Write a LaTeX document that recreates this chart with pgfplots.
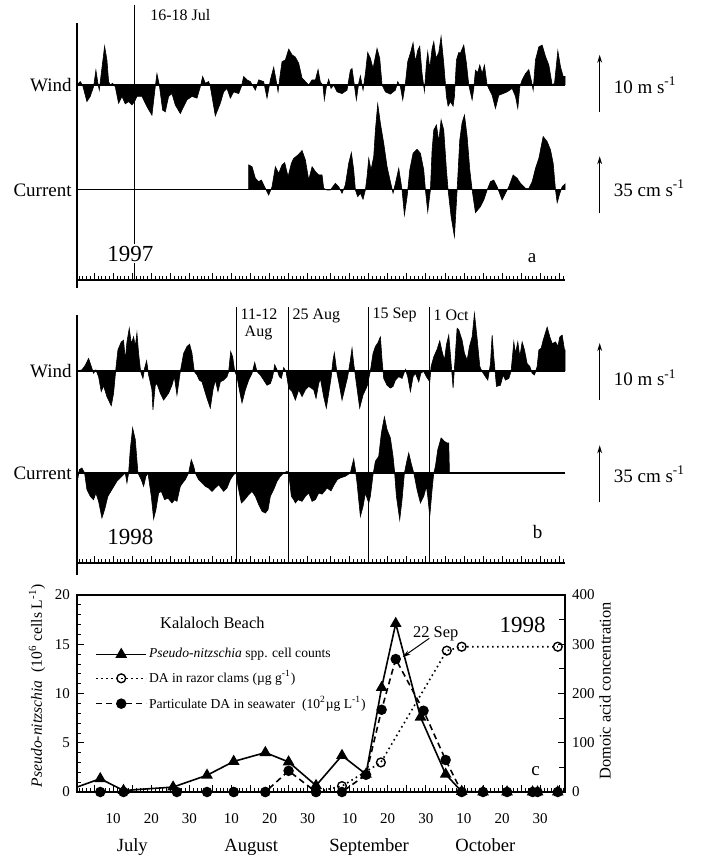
\documentclass[border=0pt]{standalone}
\usepackage{fontspec}
\setmainfont{Liberation Serif}
\usepackage{pgfplots}
\pgfplotsset{compat=1.18}
\usetikzlibrary{arrows.meta}

\newcommand{\fs}[1]{\fontsize{#1}{#1}\selectfont}

% days counted from 1 July (=0)
\pgfplotsset{
  stick/.style={scale only axis, width=244pt, xmin=-0.5, xmax=127.5, clip=false},
  frame/.style={
    axis x line=bottom, axis y line=left,
    axis line style={-, line width=0.6pt},
    ytick=\empty,
    xtick={4,9,14,19,24,29,35,40,45,50,55,60,66,71,76,81,86,91,96,101,106,111,116,121,126},
    xticklabels=\empty, minor xtick={0,...,127},
    tick align=inside, major tick length=3.5pt, minor tick length=1.8pt,
    tick style={black, line width=0.4pt},
  },
  area/.style={fill=black, draw=black, line width=0.3pt},
}
\tikzset{scalebar/.style={-{Stealth[length=4pt,width=2.4pt]}, line width=0.5pt}}

\begin{document}
\begin{tikzpicture}
\useasboundingbox (0pt,0pt) rectangle (351pt,429pt);

%%%%%%%%%%%%%%%% panel a, 1997
\begin{axis}[stick, frame, at={(38.5pt,289pt)}, anchor=south west, height=128.5pt,
  ymin=-34.21, ymax=10.88]
\addplot[area] coordinates {
(-0.5,0)(0.35,0.6)(0.96,0)(2.1,-2.9)(2.97,-2.0)(3.85,-0.3)(4.46,2.6)(4.99,0.3)(5.34,-0.9)(5.86,2.0)
(6.74,6.8)(7.35,4.4)(7.79,0.6)(8.22,0)(8.84,0.3)(9.54,-0.3)(10.41,-3.2)(11.29,-2.0)(12.16,-3.3)(13.04,-2.9)
(13.91,-3.5)(14.61,-2.9)(15.22,-2.0)(16.54,-2.0)(17.85,-3.8)(19.16,-5.3)(20.03,-0.3)(20.47,2.0)(21.09,0)(21.96,-4.4)
(22.66,-4.7)(23.53,-2.0)(24.41,-1.5)(25.28,-3.5)(26.6,-5.0)(27.47,-3.8)(28.35,-2.6)(29.66,-2.0)(30.97,-2.3)(31.85,-0.3)
(32.46,1.5)(33.16,0.3)(34.03,0.6)(34.47,-0.3)(35.78,-5.4)(37.1,-3.2)(37.97,-1.2)(38.85,-0.6)(39.72,-2.3)(40.6,-1.2)
(41.91,-1.5)(42.61,-0.3)(43.22,1.5)(44.09,0.9)(44.97,0.6)(46.28,-0.9)(47.16,0.9)(48.47,0.6)(49.34,-2.3)(50.22,0.9)
(51.09,3.1)(51.71,0.9)(52.23,-1.2)(52.84,2.0)(53.28,4.1)(54.16,4.4)(55.03,6.3)(55.9,5.3)(56.78,4.9)(57.66,3.8)
(58.53,1.2)(59.41,0.6)(60.28,0)(61.16,0.9)(62.03,0.9)(62.73,2.7)(63.34,0.5)(64.0,0)(64.38,-2.6)(64.9,-0.3)
(65.52,1.0)(66.13,-0.6)(66.83,0)(67.7,-1.2)(69.02,-1.5)(70.33,-0.9)(71.2,2.6)(71.64,2.9)(72.25,0)(72.78,-2.6)
(73.39,0.3)(73.83,1.6)(74.53,-0.9)(75.14,2.0)(75.75,5.7)(76.45,4.7)(77.15,2.9)(78.2,6.4)(78.9,4.7)(79.52,0)
(80.39,-1.2)(81.7,-1.6)(83.02,-0.9)(83.63,0.6)(84.33,-0.3)(84.94,-2.6)(85.64,0.3)(86.25,4.1)(86.95,5.6)(87.65,7.4)
(88.26,4.1)(88.88,6.1)(89.4,6.8)(90.01,2.0)(90.63,-1.1)(91.15,3.8)(91.5,5.8)(92.03,2.9)(92.64,6.4)(93.08,7.6)
(93.69,4.7)(94.39,5.7)(95.0,8.5)(95.7,3.8)(96.4,-2.0)(96.84,-3.7)(97.45,-2.9)(98.15,-3.7)(98.5,-2.0)(99.03,4.4)
(99.64,5.7)(100.08,5.6)(100.95,7.0)(101.65,3.8)(102.26,0)(103.14,-2.6)(103.57,-0.6)(104.01,2.6)(104.62,2.2)(105.15,3.5)
(105.76,2.0)(106.37,3.5)(107.07,0)(108.39,-1.8)(109.26,-4.1)(110.14,-1.8)(111.28,-1.5)(112.32,-1.2)(113.64,-0.6)(114.51,-2.0)
(115.12,-4.1)(115.65,-0.3)(116.26,0.9)(117.14,2.0)(118.01,2.7)(118.62,0.9)(119.15,-0.9)(119.76,4.4)(120.64,6.7)(121.51,7.0)
(122.39,5.0)(123.26,3.5)(124.14,0)(124.75,0.3)(125.62,6.0)(126.32,3.2)(127.02,1.5)(127.5,1.5)(127.5,0)
};
\draw[line width=1pt] (axis cs:-0.5,0) -- (axis cs:127.5,0);
\draw[line width=0.6pt] (axis cs:-0.5,-34.21) -- (axis cs:-0.5,-35.6);
\draw[line width=0.6pt] (axis cs:14.5,14.0) -- (axis cs:14.5,-34.21);
\node[fill=white, inner sep=1pt, font=\fs{11.5}] at (axis cs:13.5,-29.6) {1997};
\node[anchor=west, font=\fs{8}] at (axis cs:16.9,12.3) {16-18 Jul};
\node[anchor=base, font=\fs{9.5}] at (axis cs:118.9,-31.2) {a};
\node[anchor=east, font=\fs{9.5}, inner sep=1pt] at (axis cs:-1.3,0) {Wind};
\draw[scalebar] (axis cs:136.6,-4.7) -- (axis cs:136.6,5.3);
\node[anchor=west, font=\fs{9.5}, inner sep=0pt] at (axis cs:140.2,0) {10 m s\textsuperscript{-1}};
\end{axis}

\begin{axis}[stick, hide axis, at={(38.5pt,289pt)}, anchor=south west, height=128.5pt,
  ymin=-55.25, ymax=102.5]
\addplot[area] coordinates {
(44.53,0)(44.54,15.4)(45.41,14.3)(46.28,7.2)(47.16,5.1)(47.86,6.1)(48.91,1.0)(49.78,-3.1)(50.66,2.0)(51.53,14.3)
(52.41,10.2)(53.28,15.4)(53.98,16.8)(54.86,8.2)(55.73,16.4)(56.34,19.4)(57.48,21.5)(58.53,24.2)(59.41,18.4)(60.28,6.1)
(61.16,14.3)(62.03,11.3)(62.91,9.2)(63.78,9.2)(64.2,1.0)(65.08,0)(65.95,0)(67.27,4.1)(68.14,2.0)(69.02,-2.0)
(69.89,3.1)(70.77,16.4)(71.47,22.9)(72.08,12.3)(72.52,0)(73.13,-4.1)(73.83,-2.0)(74.53,-5.7)(75.14,0)(75.58,8.2)
(76.02,19.4)(76.63,12.3)(77.33,20.5)(77.77,36.8)(78.38,52.8)(79.08,40.9)(79.95,28.7)(80.83,14.3)(81.7,5.1)(82.4,-2.0)
(83.02,4.1)(83.89,13.3)(84.76,0)(85.38,-15.4)(86.08,-4.1)(86.78,12.3)(87.65,22.5)(88.7,25.0)(89.58,22.5)(90.45,12.3)
(90.89,0)(91.5,-13.3)(92.2,0)(92.64,24.6)(93.08,36.8)(93.78,39.9)(94.39,29.7)(95.0,43.0)(95.7,36.8)(96.4,12.3)
(96.84,0)(97.63,-16.4)(98.5,-28.7)(99.2,0)(99.9,30.7)(100.51,41.3)(101.13,46.0)(101.83,32.8)(102.53,12.3)(103.14,0)
(104.01,-13.9)(105.33,-10.2)(106.2,-6.1)(107.07,0)(107.95,5.1)(108.82,6.1)(109.7,2.0)(111.01,-6.1)(111.89,-2.0)(112.76,2.0)
(113.9,9.2)(114.95,7.2)(115.82,4.1)(117.14,1.0)(118.01,1.0)(118.89,5.1)(119.76,13.3)(120.64,19.4)(121.77,32.8)(122.82,29.7)
(123.7,24.6)(124.4,16.4)(125.01,0)(125.45,-7.8)(126.15,-2.0)(126.76,2.0)(127.5,3.7)(127.5,0)
};
\draw[line width=0.5pt] (axis cs:-0.5,0) -- (axis cs:127.5,0);
\node[anchor=east, font=\fs{9.5}, inner sep=1pt] at (axis cs:-1.3,0) {Current};
\draw[scalebar] (axis cs:136.6,-14.3) -- (axis cs:136.6,20.7);
\node[anchor=west, font=\fs{9.5}, inner sep=0pt] at (axis cs:140.2,1) {35 cm s\textsuperscript{-1}};
\end{axis}

%%%%%%%%%%%%%%%% panel b, 1998
\begin{axis}[stick, frame, at={(38.5pt,147.5pt)}, anchor=south west, height=124pt,
  ymin=-33.68, ymax=9.825]
\addplot[area] coordinates {
(-0.5,0)(0.79,0.2)(1.66,1.0)(2.54,2.2)(3.24,0.8)(3.85,-0.4)(4.46,0.2)(5.16,-1.0)(5.86,-3.6)(6.47,-2.6)
(7.35,-4.5)(8.49,-6.1)(9.1,-3.9)(9.71,0.5)(10.24,3.7)(11.11,5.1)(11.72,5.4)(12.16,1.9)(12.6,5.1)(13.21,7.5)
(13.74,4.8)(14.35,6.0)(14.79,4.3)(15.22,6.7)(15.66,3.1)(16.19,-0.1)(16.8,-1.3)(17.24,0.5)(17.76,1.8)(18.29,-0.7)
(19.16,-3.3)(19.42,-6.8)(20.03,-2.5)(20.47,-2.2)(21.35,-3.9)(22.22,-5.1)(23.53,-3.9)(24.41,-2.5)(25.02,-1.0)(25.72,-4.2)
(26.6,-0.1)(27.47,3.1)(28.35,4.3)(29.05,4.7)(29.66,3.1)(30.27,-0.1)(30.97,-0.7)(31.58,-1.6)(32.28,-1.9)(33.6,-4.8)
(34.47,-6.5)(35.17,-3.3)(35.78,-1.6)(36.48,-3.6)(37.1,-1.9)(37.97,-1.6)(38.85,-1.0)(39.28,-0.1)(39.81,3.4)(40.33,2.5)
(40.86,0)(41.47,-1.0)(42.08,-3.3)(42.78,-5.6)(43.66,-3.3)(44.53,-1.6)(45.41,-0.4)(46.11,1.5)(46.72,-0.1)(47.59,-0.7)
(48.47,-1.6)(49.34,-2.5)(50.22,-2.2)(50.83,-1.0)(51.36,1.1)(51.97,0.2)(52.58,-1.0)(53.11,-1.3)(53.72,0.6)(54.33,-0.1)
(55.03,-3.0)(55.9,-3.6)(56.78,-5.1)(57.66,-3.3)(58.53,-4.5)(59.41,-3.3)(60.28,-2.7)(61.59,-3.3)(62.2,-4.8)(62.91,-2.2)
(63.33,-1.3)(64.2,-4.5)(64.9,-6.5)(65.52,-3.9)(66.13,-1.3)(66.65,1.9)(67.0,3.2)(67.7,-0.4)(68.32,-2.5)(69.02,-5.1)
(69.89,-2.7)(70.5,-1.0)(71.2,1.9)(71.64,4.0)(72.08,1.3)(72.78,-2.2)(73.65,-6.5)(74.53,-4.2)(75.58,-2.7)(76.45,0)
(77.15,3.1)(77.77,4.3)(78.38,4.9)(79.08,6.0)(79.52,1.9)(79.95,-1.3)(80.83,-2.5)(81.7,-3.0)(82.4,-2.7)(83.02,-1.6)
(83.89,-1.0)(84.76,-1.3)(85.64,0.3)(86.25,-1.0)(86.95,-3.6)(87.65,-1.0)(88.26,-0.4)(89.14,-1.9)(89.75,-0.3)(90.45,-0.1)
(91.15,-1.0)(92.03,-1.9)(92.38,0.8)(93.08,2.5)(93.95,3.8)(94.65,5.3)(95.26,3.4)(95.88,1.9)(96.4,4.6)(97.01,6.3)
(97.63,1.4)(98.15,-3.0)(98.5,0.5)(99.2,7.5)(99.64,7.2)(100.51,5.4)(101.13,3.1)(101.83,1.9)(102.44,4.3)(103.14,6.0)
(103.75,10.1)(104.45,5.7)(105.15,0.8)(105.76,-0.1)(106.64,-1.0)(107.25,-1.6)(107.95,1.3)(108.39,6.3)(108.82,2.5)(109.52,-2.7)
(110.57,-2.5)(111.28,-0.7)(111.89,-1.6)(112.76,-1.3)(113.37,0)(114.07,5.1)(114.51,3.1)(115.12,5.1)(115.65,2.5)(116.26,5.1)
(116.87,3.7)(117.57,1.3)(118.27,0.8)(118.89,-0.4)(119.5,-0.7)(120.2,0.8)(120.64,3.7)(121.25,4.0)(121.77,5.4)(122.82,7.7)
(123.52,6.0)(124.14,4.8)(125.01,5.1)(125.62,4.3)(126.15,6.0)(126.76,6.3)(127.37,3.7)(127.5,3.7)(127.5,0)
};
\draw[line width=1pt] (axis cs:-0.5,0) -- (axis cs:127.5,0);
\draw[line width=0.6pt] (axis cs:-0.5,-33.68) -- (axis cs:-0.5,-35.8);
\draw[line width=0.6pt] (axis cs:41.3,11.2) -- (axis cs:41.3,-33.68);
\draw[line width=0.6pt] (axis cs:54.9,11.2) -- (axis cs:54.9,-33.68);
\draw[line width=0.6pt] (axis cs:75.9,11.2) -- (axis cs:75.9,-33.68);
\draw[line width=0.6pt] (axis cs:91.9,11.2) -- (axis cs:91.9,-33.68);
\node[anchor=west, font=\fs{8}, inner sep=1pt] at (axis cs:41.8,9.9) {11-12};
\node[font=\fs{8}, inner sep=1pt] at (axis cs:47.1,6.6) {Aug};
\node[anchor=west, font=\fs{8}, inner sep=1pt] at (axis cs:55.4,9.7) {25 Aug};
\node[anchor=west, font=\fs{8}, inner sep=1pt] at (axis cs:76.4,9.8) {15 Sep};
\node[anchor=west, font=\fs{8}, inner sep=1pt] at (axis cs:92.4,9.8) {1 Oct};
\node[font=\fs{11.5}] at (axis cs:13.5,-29.2) {1998};
\node[anchor=base, font=\fs{9.5}] at (axis cs:120.3,-29.3) {b};
\node[anchor=east, font=\fs{9.5}, inner sep=1pt] at (axis cs:-1.3,0) {Wind};
\draw[scalebar] (axis cs:136.6,-5.1) -- (axis cs:136.6,4.9);
\node[anchor=west, font=\fs{9.5}, inner sep=0pt] at (axis cs:140.2,-1.2) {10 m s\textsuperscript{-1}};
\end{axis}

\begin{axis}[stick, hide axis, at={(38.5pt,147.5pt)}, anchor=south west, height=124pt,
  ymin=-55.25, ymax=97.0]
\addplot[area] coordinates {
(-0.5,0)(-0.45,-6.1)(0.09,2.0)(0.79,3.1)(1.49,0)(2.1,-10.2)(2.97,-14.3)(3.85,-16.4)(4.46,-12.3)(5.16,-17.4)
(6.04,-27.6)(6.74,-22.5)(7.61,-14.3)(8.66,-10.2)(9.97,-5.1)(11.29,-2.0)(12.16,0)(12.6,-6.1)(13.04,0)(13.47,14.3)
(14.09,27.6)(14.79,20.5)(15.49,0)(16.36,-4.1)(16.97,-8.2)(17.59,-2.0)(18.11,0)(18.99,-14.3)(19.6,-28.2)(20.21,-22.5)
(20.91,-12.3)(21.61,-11.3)(22.48,-16.4)(23.36,-15.4)(24.41,-18.4)(25.11,-16.4)(25.72,-17.4)(26.6,-8.2)(27.21,-6.1)(27.91,-4.1)
(28.78,0)(29.48,8.2)(30.1,4.1)(30.53,0)(31.41,-4.1)(32.28,-6.1)(33.16,-8.2)(34.03,-9.2)(34.91,-11.3)(35.78,-9.2)
(36.66,-7.2)(37.97,-11.3)(38.85,-9.2)(39.72,-4.1)(40.6,-1.0)(41.21,0)(41.73,-8.2)(42.61,-18.4)(43.48,-16.4)(44.53,-13.3)
(45.41,-11.3)(46.28,-14.3)(47.16,-19.4)(48.03,-23.5)(48.91,-24.6)(49.61,-22.5)(50.22,-14.3)(51.09,-10.2)(51.97,-5.1)(52.84,-2.0)
(53.72,0)(54.59,1.0)(55.03,0)(55.73,-14.3)(56.34,-16.4)(56.78,-18.4)(57.48,-16.4)(58.53,-17.4)(59.41,-14.3)(60.28,-12.3)
(61.16,-17.4)(62.03,-16.4)(62.91,-12.3)(63.78,-13.0)(64.5,-11.0)(65.1,-9.2)(66.13,-11.0)(67.0,-7.0)(67.8,-4.0)(68.6,-3.0)
(69.9,-2.0)(71.2,0)(71.64,4.5)(72.08,8.6)(72.52,2.0)(72.95,-6.1)(73.83,-26.6)(74.53,-20.5)(75.14,-12.3)(76.02,-18.4)
(76.45,-14.3)(77.15,-1.0)(77.77,7.2)(78.64,10.2)(79.34,24.6)(80.13,34.4)(80.83,26.6)(81.7,21.5)(82.4,10.2)(82.75,2.0)
(83.28,-14.3)(84.15,-28.7)(84.76,-16.4)(85.38,0)(85.9,6.1)(86.51,12.3)(87.13,6.1)(87.83,0)(88.7,-10.2)(89.58,-18.4)
(90.45,-14.3)(91.15,-8.2)(91.5,-14.3)(92.03,-26.6)(92.64,-10.2)(93.08,0)(93.51,4.1)(94.13,14.3)(95.0,21.5)(95.88,19.4)
(96.58,18.4)(97.01,18.4)(97.19,0)
};
\draw[line width=0.6pt] (axis cs:-0.5,0) -- (axis cs:127.5,0);
\node[anchor=east, font=\fs{9.5}, inner sep=1pt] at (axis cs:-1.3,0) {Current};
\draw[scalebar] (axis cs:136.6,-18) -- (axis cs:136.6,17);
\node[anchor=west, font=\fs{9.5}, inner sep=0pt] at (axis cs:140.2,-0.6) {35 cm s\textsuperscript{-1}};
\end{axis}

%%%%%%%%%%%%%%%% panel c
\begin{axis}[scale only axis, width=244pt, height=98.5pt, at={(38.5pt,33pt)}, anchor=south west,
  xmin=-0.5, xmax=127.5, ymin=0, ymax=20, clip=false,
  axis line style={line width=0.6pt},
  xtick={4,9,14,19,24,29,35,40,45,50,55,60,66,71,76,81,86,91,96,101,106,111,116,121,126},
  xticklabels={,10,,20,,30,,10,,20,,30,,10,,20,,30,,10,,20,,30,},
  minor xtick={0,...,127},
  ytick={0,5,...,20}, minor y tick num=4,
  xtick pos=left, ytick pos=left,
  tick align=inside, major tick length=3.5pt, minor tick length=1.8pt,
  tick style={black, line width=0.4pt},
  tick label style={font=\fs{7.5}},
  xticklabel style={yshift=-7pt},
  /pgf/number format/assume math mode=true,
  ylabel={\textit{Pseudo-nitzschia}~~(10\textsuperscript{6} cells L\textsuperscript{-1})},
  ylabel style={font=\fs{7.8}, at={(axis description cs:-0.082,0.54)}, anchor=center, rotate=0},
]
\addplot[black, line width=0.8pt, mark=triangle*, mark size=2.6pt, mark indices={2,...,21},
  mark options={solid}] coordinates {
(-0.5,0.5)(5.6,1.35)(11.7,0.15)(24.7,0.5)(33.6,1.7)(40.6,3.1)(48.9,4.0)(55.0,3.05)(62.2,0.65)(69.0,3.7)
(75.3,1.8)(79.4,10.6)(83.1,17.1)(89.6,7.6)(96.2,1.8)(100.4,0.05)(106,0)(112.3,0)(119,0)(120.3,0)(125.6,0)(127.5,0)
};
\node[font=\fs{8.2}] at (axis cs:35,17.2) {Kalaloch Beach};
\node[font=\fs{8.2}, inner sep=0.5pt] at (axis cs:93.6,16.1) {22 Sep};
\draw[-{Stealth[length=4pt,width=2.4pt]}, line width=0.5pt] (axis cs:91.9,15.6) -- (axis cs:84.9,13.7);
\node[font=\fs{11.5}] at (axis cs:116.4,17.0) {1998};
\node[anchor=base, font=\fs{9.5}] at (axis cs:119.8,1.7) {c};
\node[anchor=base, font=\fs{9.3}] at ([yshift=-30pt]axis cs:14.0,0) {July};
\node[anchor=base, font=\fs{9.3}] at ([yshift=-30pt]axis cs:45.2,0) {August};
\node[anchor=base, font=\fs{9.3}] at ([yshift=-30pt]axis cs:76.1,0) {September};
\node[anchor=base, font=\fs{9.3}] at ([yshift=-30pt]axis cs:106.6,0) {October};
\end{axis}

\begin{axis}[scale only axis, width=244pt, height=98.5pt, at={(38.5pt,33pt)}, anchor=south west,
  xmin=-0.5, xmax=127.5, ymin=0, ymax=400, clip=false,
  axis y line*=right, axis x line=none,
  axis line style={-, line width=0.6pt},
  ytick={0,100,...,400}, minor y tick num=1,
  tick align=inside, major tick length=3.5pt, minor tick length=3pt,
  tick style={black, line width=0.4pt},
  tick label style={font=\fs{7.5}},
  /pgf/number format/assume math mode=true,
  ylabel={Domoic acid concentration},
  ylabel style={font=\fs{8.2}, at={(axis description cs:1.082,0.513)}, anchor=center, rotate=0},
  legend style={at={(0.037,0.742)}, anchor=north west, draw=none, fill=none,
    font=\fs{6.8}, row sep=3pt, inner sep=0pt, nodes={inner sep=1pt}},
  legend cell align=left,
  legend image code/.code={\draw[mark repeat=2,mark phase=2,#1] plot coordinates {(0pt,0pt)(12.5pt,0pt)(25pt,0pt)};},
]
\addlegendimage{black, line width=0.8pt, mark=triangle*, mark size=2.6pt, mark options={solid}}
\addlegendentry{\textit{Pseudo-nitzschia} spp. cell counts}
\addplot[black, line width=0.8pt, dash pattern=on 0.8pt off 1.7pt, mark=o, mark size=2.2pt,
  mark options={solid, fill=white, line width=0.7pt}] coordinates {
(40.6,0)(48.9,0)(62.2,0)(69.0,12)(79.2,60)(96.5,287)(100.4,295)(125.6,295)
};
\addlegendentry{DA in razor clams (µg g\textsuperscript{-1})}
\addplot[black, line width=0.8pt, dash pattern=on 3pt off 2pt, mark=*, mark size=2.2pt,
  mark options={solid}] coordinates {
(5.6,0)(11.7,0)(25.7,0)(33.6,0)(40.6,0)(48.9,0)(55.0,43)(62.2,0)(69.0,0)(75.3,35)
(79.4,167)(83.1,270)(90.4,165)(96.2,65)(100.4,0)(106,0)(112.3,0)(119,0)(120.3,0)(125.6,0)
};
\addlegendentry{Particulate DA in seawater~~(10\textsuperscript{2}µg L\textsuperscript{-1})}
\end{axis}
\end{tikzpicture}
\end{document}
